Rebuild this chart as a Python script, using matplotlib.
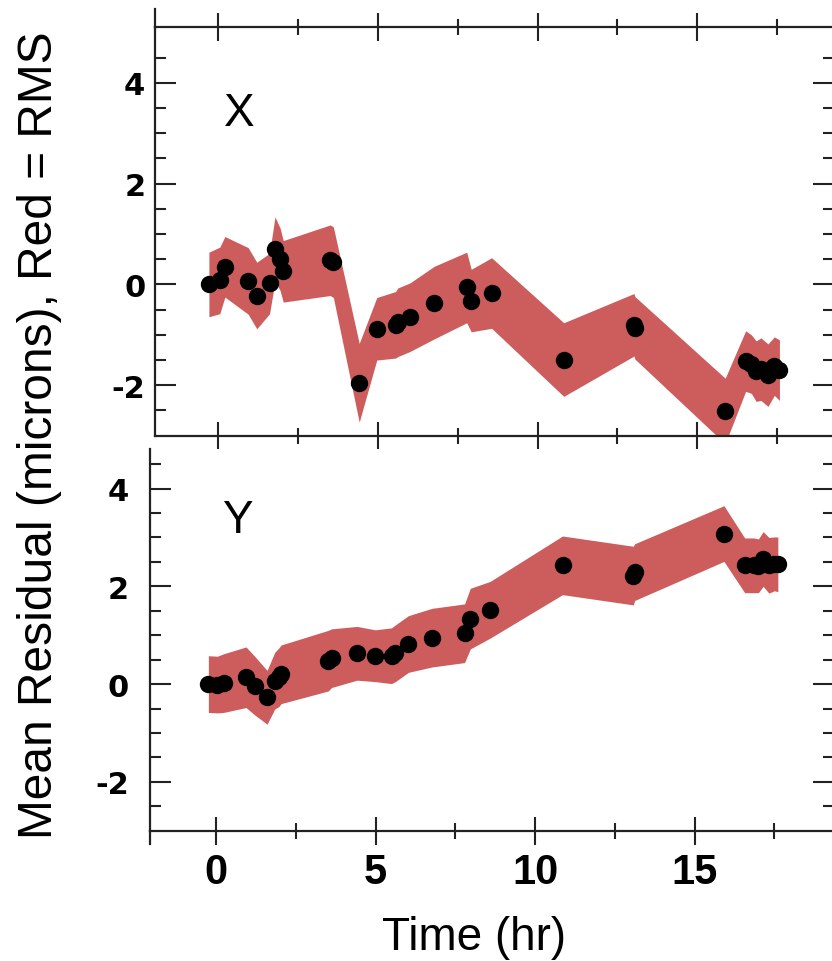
import numpy as np
import matplotlib
matplotlib.use("Agg")
import matplotlib.pyplot as plt
from matplotlib.lines import Line2D
from matplotlib.ticker import MultipleLocator, FixedLocator

plt.rcParams["axes.unicode_minus"] = False

# ---------------- data ----------------
# X residuals: time (hr), mean residual (microns), RMS (microns)
time_x = [-0.30, 0.04, 0.20, 0.93, 1.20, 1.60, 1.77, 1.93, 2.03, 3.50, 3.60,
          4.41, 4.96, 5.55, 5.62, 6.00, 6.76, 7.78, 7.92, 8.56, 10.82,
          13.02, 13.05, 15.88, 16.52, 16.70, 16.85, 17.00, 17.22, 17.42, 17.58]
mean_x = [0.00, 0.08, 0.35, 0.07, -0.22, 0.02, 0.70, 0.50, 0.26, 0.48, 0.44,
          -1.95, -0.88, -0.80, -0.75, -0.65, -0.36, -0.06, -0.32, -0.17, -1.49,
          -0.80, -0.86, -2.51, -1.52, -1.58, -1.72, -1.68, -1.80, -1.62, -1.70]
rms_x = [0.64, 0.66, 0.60, 0.66, 0.66, 0.60, 0.64, 0.62, 0.61, 0.70, 0.70,
         0.78, 0.62, 0.66, 0.68, 0.68, 0.72, 0.70, 0.62, 0.70, 0.73,
         0.62, 0.62, 0.65, 0.60, 0.58, 0.60, 0.62, 0.62, 0.58, 0.60]

# Y residuals
time_y = [-0.24, 0.04, 0.24, 0.94, 1.21, 1.60, 1.84, 1.97, 2.04, 3.52, 3.62,
          4.42, 4.99, 5.50, 5.62, 6.03, 6.77, 7.79, 7.97, 8.59, 10.86,
          13.08, 13.12, 15.92, 16.57, 16.85, 17.00, 17.15, 17.33, 17.50, 17.61]
mean_y = [0.00, -0.01, 0.02, 0.14, -0.03, -0.27, 0.07, 0.14, 0.20, 0.48, 0.53,
          0.63, 0.58, 0.58, 0.63, 0.82, 0.95, 1.04, 1.34, 1.52, 2.43,
          2.22, 2.29, 3.08, 2.43, 2.43, 2.42, 2.56, 2.43, 2.46, 2.45]
rms_y = [0.58, 0.58, 0.60, 0.62, 0.60, 0.55, 0.58, 0.60, 0.60, 0.62, 0.60,
         0.55, 0.53, 0.57, 0.58, 0.58, 0.60, 0.60, 0.62, 0.58, 0.60,
         0.60, 0.58, 0.57, 0.56, 0.56, 0.55, 0.56, 0.57, 0.55, 0.56]

panel_labels = ["X", "Y"]
x_major = [0, 5, 10, 15]
x_minor = [2.5, 7.5, 12.5, 17.5]

BAND = "#CD5C5C"
SPINE = "#222222"

fig = plt.figure(figsize=(8.32, 9.62), dpi=100)
W, H = 832.0, 962.0

ax1 = fig.add_axes([155 / W, 1 - 436.7 / H, (834 - 155) / W, (436.7 - 28.3) / H])
ax2 = fig.add_axes([150 / W, 1 - 831.7 / H, (834 - 150) / W, (831.7 - 450) / H])

def draw(ax, t, m, r):
    t = np.asarray(t); m = np.asarray(m); r = np.asarray(r)
    ax.fill_between(t, m - r, m + r, color=BAND, linewidth=0, zorder=1)
    ax.plot(t, m, "o", color="black", ms=11.5, mec="black", zorder=3, clip_on=False)

draw(ax1, time_x, mean_x, rms_x)
draw(ax2, time_y, mean_y, rms_y)

ax1.set_xlim(-1.99, 19.29)
ax1.set_ylim(-3.0, 5.1)
ax2.set_xlim(-2.07, 19.37)
ax2.set_ylim(-3.0, 4.81)

minor_y = [v for v in np.arange(-2.5, 4.6, 0.5) if abs(v % 2) > 1e-9]

for ax in (ax1, ax2):
    for s in ax.spines.values():
        s.set_linewidth(1.6)
        s.set_color(SPINE)
    ax.xaxis.set_major_locator(FixedLocator(x_major))
    ax.xaxis.set_minor_locator(FixedLocator(x_minor))
    ax.yaxis.set_major_locator(MultipleLocator(2))
    ax.yaxis.set_minor_locator(FixedLocator(minor_y))
    ax.tick_params(axis="y", which="major", direction="in", length=15, width=1.5,
                   left=True, right=True, color=SPINE)
    ax.tick_params(axis="y", which="minor", direction="in", length=8, width=1.5,
                   left=True, right=True, color=SPINE)
    for lab in ax.get_yticklabels():
        lab.set_fontfamily("DejaVu Sans")
        lab.set_fontweight("bold")
        lab.set_fontsize(22)

ax1.tick_params(axis="x", which="major", direction="inout", length=20, width=1.5,
                top=True, bottom=True, labelbottom=False, color=SPINE)
ax1.tick_params(axis="x", which="minor", direction="inout", length=12, width=1.5,
                top=True, bottom=True, color=SPINE)
ax1.tick_params(axis="y", pad=7)

ax2.spines["top"].set_visible(False)
ax2.tick_params(axis="x", which="major", direction="inout", length=20, width=1.5,
                top=False, bottom=True, labelbottom=True, pad=5, color=SPINE)
ax2.tick_params(axis="x", which="minor", direction="inout", length=12, width=1.5,
                top=False, bottom=True, color=SPINE)
ax2.tick_params(axis="y", pad=15)
for lab in ax2.get_xticklabels():
    lab.set_fontfamily("Liberation Sans")
    lab.set_fontweight("bold")
    lab.set_fontsize(30)

# small spine overhangs seen in the reference
fig.add_artist(Line2D([155 / W, 155 / W], [1 - 10 / H, 1 - 28.3 / H],
                      color=SPINE, lw=1.6))
fig.add_artist(Line2D([150 / W, 150 / W], [1 - 831.7 / H, 1 - 845 / H],
                      color=SPINE, lw=1.6))

ax1.text(0.101, 0.760, panel_labels[0], transform=ax1.transAxes,
         fontfamily="Liberation Sans", fontsize=33, ha="left", va="baseline")
ax2.text(0.106, 0.782, panel_labels[1], transform=ax2.transAxes,
         fontfamily="Liberation Sans", fontsize=33, ha="left", va="baseline")

fig.text(474 / W, 1 - 950 / H, "Time (hr)", fontfamily="Liberation Sans",
         fontsize=33, ha="center", va="baseline")
fig.text(40 / W, 1 - 435 / H, "Mean Residual (microns), Red = RMS",
         fontfamily="Liberation Sans", fontsize=34.5, rotation=90,
         ha="center", va="center")

fig.savefig("out.png", dpi=100)
